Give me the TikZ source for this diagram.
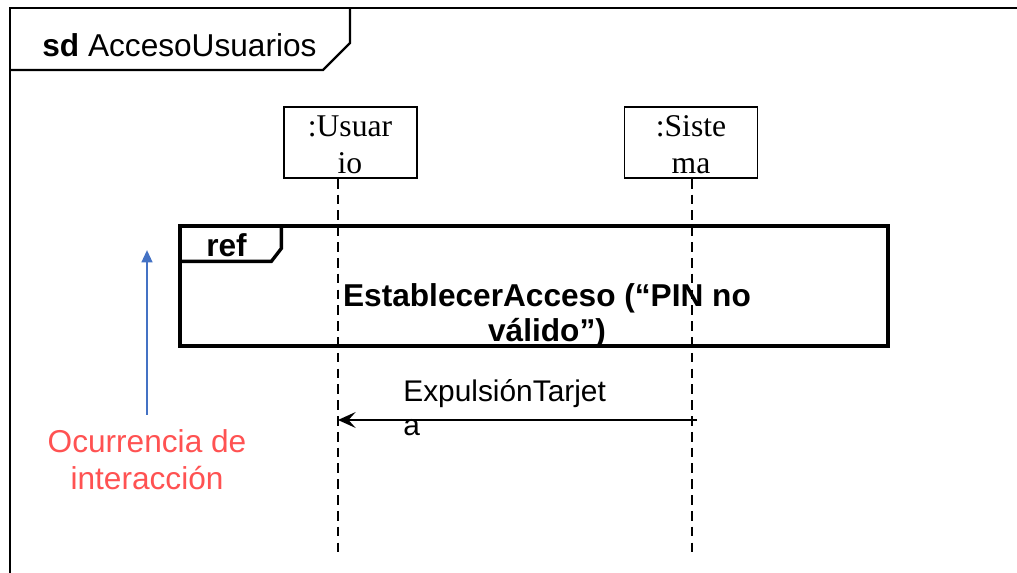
\documentclass[tikz,border=0pt]{standalone}
\usepackage{fontspec}
\setmainfont{Liberation Sans}
\newfontfamily\timesfont{Liberation Serif}
\usetikzlibrary{positioning, arrows.meta, calc}
\definecolor{rojoNota}{RGB}{255,82,82}
\definecolor{azulNota}{RGB}{68,114,196}
\tikzset{
  marco/.style={line width=1.4pt},
  marcoRef/.style={draw, line width=1.9pt, inner sep=0pt},
  lineaVida/.style={line width=1.3pt, dash pattern=on 5.5pt off 3.5pt},
  cabeza/.style={draw, line width=1pt, inner sep=0pt, minimum width=2.66cm, minimum height=1.42cm},
  textoCabeza/.style={font=\timesfont\fontsize{18}{19}\selectfont, align=center, inner sep=0pt},
  mensaje/.style={line width=1.3pt, -{Stealth[length=10pt, width=9pt, inset=4pt]}},
}
\begin{document}
\begin{tikzpicture}[x=0.02cm, y=-0.02cm]
    \useasboundingbox (0,0) rectangle (1017,573);
    % marco del diagrama
    \begin{scope}
        \clip (0,0) rectangle (1017,573);
        \draw[marco] (10,8) rectangle (1040,600);
    \end{scope}
    \draw[marco] (10,70) -- (323,70) -- (350,43) -- (350,8);
    \node[font=\fontsize{18}{20}\selectfont, anchor=base west, inner sep=0pt] (titulo) at (42,57) {\textbf{sd} AccesoUsuarios};
    % lineas de vida
    \node[cabeza] (usr) at (350.5,142.5) {};
    \node[cabeza] (sis) at (691,142.5) {};
    \node[textoCabeza, anchor=base] (usrTexto) at (350,137) {:Usuar};
    \node[textoCabeza, anchor=base] at (usrTexto.base |- 0,174) {io};
    \node[textoCabeza, anchor=base] (sisTexto) at (691,137) {:Siste};
    \node[textoCabeza, anchor=base] at (sisTexto.base |- 0,174) {ma};
    \coordinate (usrFin) at (338,553);
    \coordinate (sisFin) at (692,553);
    \draw[lineaVida] (usr.south -| usrFin) -- (usrFin);
    \draw[lineaVida] (sis.south -| sisFin) -- (sisFin);
    % fragmento ref
    \node[marcoRef, minimum width=14.16cm, minimum height=2.4cm] (refMarco) at (534,286) {};
    \draw[marco, line width=1.9pt] (refMarco.north west) ++(0,37) -- ++(93,0) -- ++(10,-13) -- ++(0,-24);
    \node[font=\bfseries\fontsize{18}{20}\selectfont, anchor=base west, inner sep=0pt] (etRef) at (206,257) {ref};
    \node[font=\bfseries\fontsize{18}{20}\selectfont, anchor=base, inner sep=0pt] (refTexto1) at (547,307) {EstablecerAcceso (“PIN no};
    \node[font=\bfseries\fontsize{18}{20}\selectfont, anchor=base, inner sep=0pt] (refTexto2) at (547,342) {válido”)};
    % mensaje
    \coordinate (msjIni) at (697,420);
    \draw[mensaje] (msjIni) -- (msjIni -| usrFin);
    \node[font=\fontsize{17}{19}\selectfont, anchor=base west, inner sep=0pt] (msjTexto1) at (403,402) {ExpulsiónTarjet};
    \node[font=\fontsize{17}{19}\selectfont, anchor=base west, inner sep=0pt] (msjTexto2) at (403,436) {a};
    % nota
    \node[font=\fontsize{18}{21}\selectfont, text=rojoNota, anchor=base, inner sep=0pt] (nota1) at (147,453) {Ocurrencia de};
    \node[font=\fontsize{18}{21}\selectfont, text=rojoNota, anchor=base, inner sep=0pt] (nota2) at (147,490) {interacción};
    \coordinate (flechaFin) at (147,250);
    \draw[azulNota, line width=1.4pt, -{Triangle[length=7pt, width=6pt]}] (nota1.north) ++(0,-15) -- (flechaFin);
\end{tikzpicture}
\end{document}
